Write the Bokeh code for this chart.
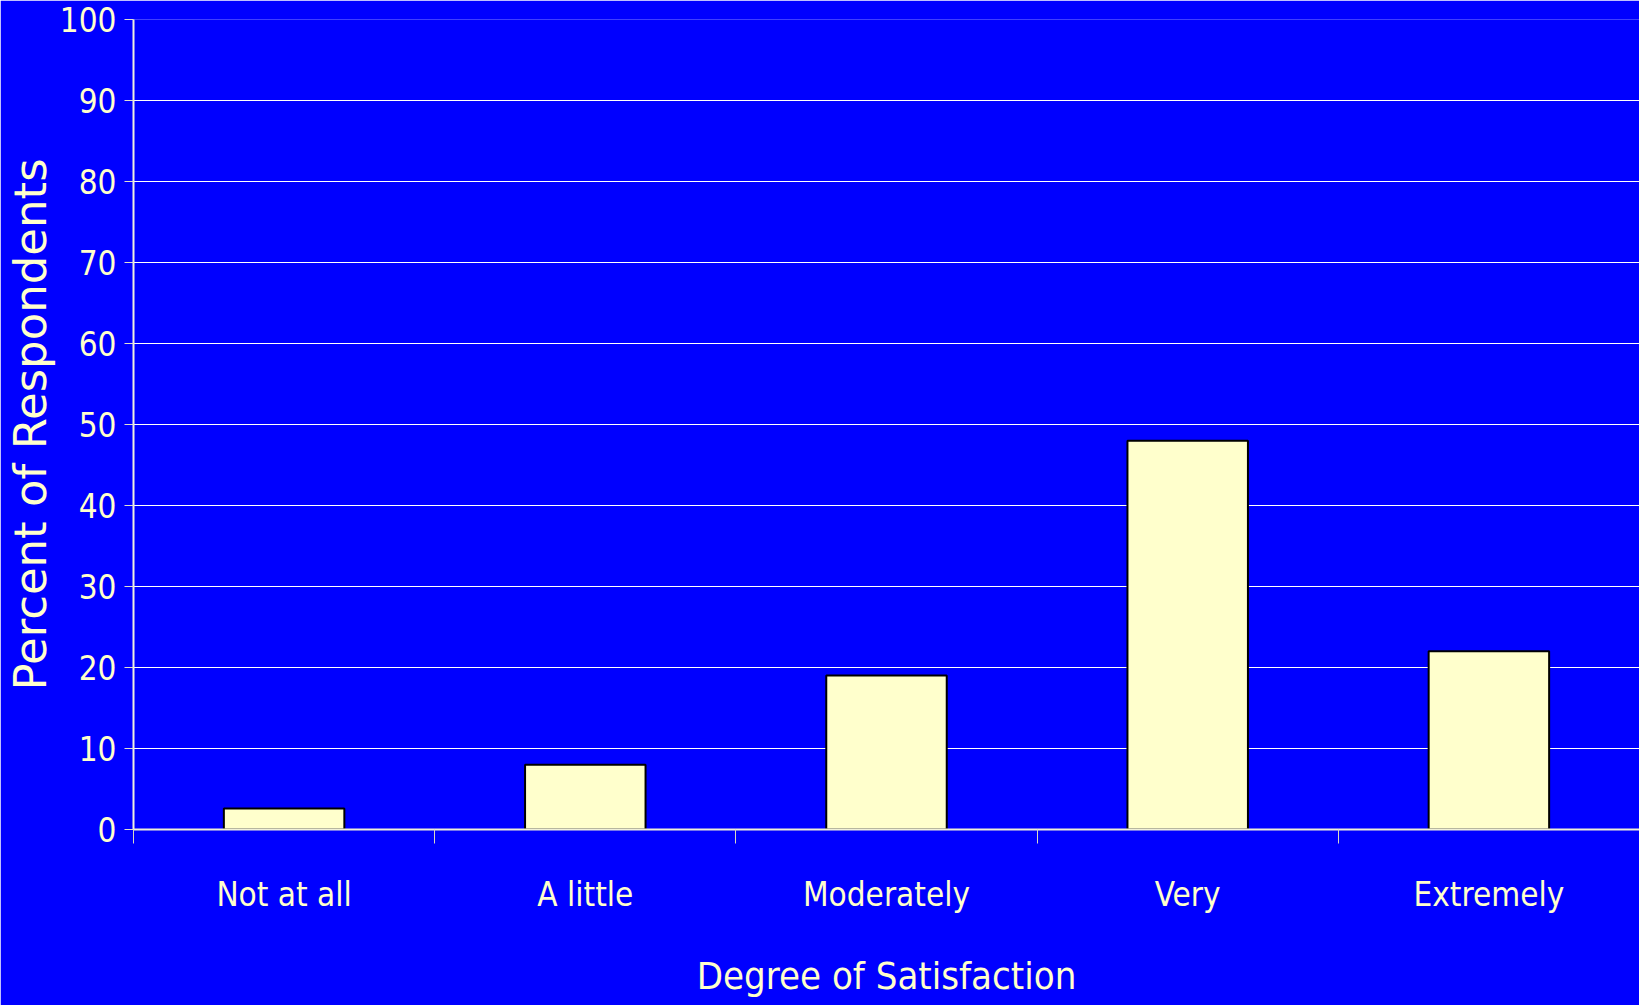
import numpy as np
from bokeh.plotting import figure
from bokeh.models import Range1d, FixedTicker
from bokeh.embed import file_html
from bokeh.resources import INLINE

categories = ["Not at all", "A little", "Moderately", "Very", "Extremely"]
percent = [2.6, 8, 19, 48, 22]
y_ticks = list(range(0, 101, 10))

x_pos = [i + 0.5 for i in range(len(categories))]
boundaries = list(range(len(categories) + 1))

BLUE = "#0000FF"
CREAM = "#FFFFCC"
NARROW = "DejaVu Sans Condensed"

p = figure(width=1639, height=1005, output_backend="svg", toolbar_location=None,
           x_range=Range1d(0, len(categories)), y_range=Range1d(0, 100),
           min_border_left=131, min_border_right=0, min_border_top=19,
           min_border_bottom=176,
           background_fill_color=BLUE, border_fill_color=BLUE,
           outline_line_color=None)

p.vbar(x=x_pos, top=percent, bottom=0, width=0.4,
       fill_color=CREAM, line_color="black", line_width=2)

# grid
p.xgrid.visible = False
p.ygrid.ticker = FixedTicker(ticks=y_ticks)
p.ygrid.grid_line_color = "white"
p.ygrid.grid_line_width = 1

# x axis
xa = p.xaxis[0]
xa.ticker = FixedTicker(ticks=x_pos, minor_ticks=boundaries)
xa.major_label_overrides = {x: c for x, c in zip(x_pos, categories)}
xa.major_tick_line_color = None
xa.major_tick_out = 0
xa.major_tick_in = 0
xa.minor_tick_line_color = "#D8D8C0"
xa.minor_tick_line_width = 1
xa.minor_tick_out = 14
xa.minor_tick_in = 0
xa.axis_line_color = "#F0F0D8"
xa.axis_line_width = 2
xa.major_label_text_font = NARROW
xa.major_label_text_font_size = "33px"
xa.major_label_text_color = CREAM
xa.major_label_standoff = 31
xa.axis_label = "Degree of Satisfaction"
xa.axis_label_text_font = NARROW
xa.axis_label_text_font_size = "38px"
xa.axis_label_text_font_style = "normal"
xa.axis_label_text_color = CREAM
xa.axis_label_standoff = 37

# y axis
ya = p.yaxis[0]
ya.ticker = FixedTicker(ticks=y_ticks, minor_ticks=[])
ya.major_tick_line_color = "#E0E0D0"
ya.major_tick_line_width = 1
ya.major_tick_out = 9
ya.major_tick_in = 0
ya.minor_tick_line_color = None
ya.axis_line_color = "#F0F0E0"
ya.axis_line_width = 2
ya.major_label_text_font = NARROW
ya.major_label_text_font_size = "33px"
ya.major_label_text_color = CREAM
ya.major_label_standoff = 8
ya.axis_label = "Percent of Respondents"
ya.axis_label_text_font = "DejaVu Sans"
ya.axis_label_text_font_size = "45px"
ya.axis_label_text_font_style = "normal"
ya.axis_label_text_color = CREAM
ya.axis_label_standoff = 0

open("out.html", "w").write(file_html(p, INLINE))
